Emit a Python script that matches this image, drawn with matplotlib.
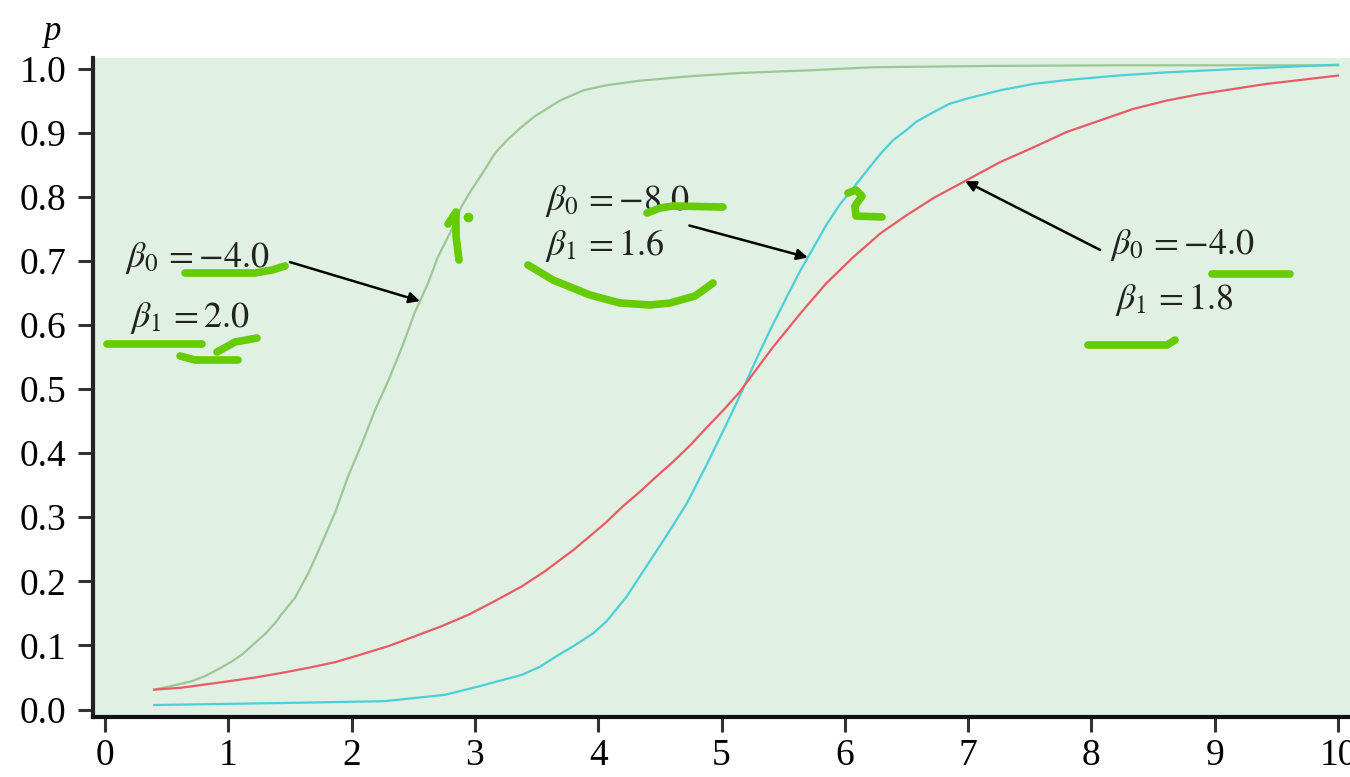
import numpy as np
import matplotlib
matplotlib.use('Agg')
import matplotlib.pyplot as plt
from matplotlib.lines import Line2D

plt.rcParams['font.family'] = 'serif'
plt.rcParams['font.serif'] = ['Liberation Serif', 'DejaVu Serif']
plt.rcParams['mathtext.fontset'] = 'stix'

# probability curves p(x) for three (beta0, beta1) pairs
green_x = [0.4, 0.57, 0.70, 0.81, 0.92, 1.03, 1.12, 1.20, 1.30, 1.38, 1.43, 1.54, 1.65, 1.76, 1.87,
           1.97, 2.08, 2.19, 2.30, 2.41, 2.51, 2.62, 2.70, 2.81, 2.89, 2.97, 3.06, 3.16, 3.27, 3.38,
           3.49, 3.69, 3.88, 4.07, 4.34, 4.75, 5.15, 5.69, 6.23, 7.18, 8.2, 9.2, 10.0]
green_p = [0.031, 0.038, 0.044, 0.052, 0.063, 0.075, 0.087, 0.101, 0.118, 0.135, 0.148, 0.174, 0.213,
           0.260, 0.309, 0.363, 0.413, 0.467, 0.514, 0.566, 0.618, 0.665, 0.706, 0.748, 0.784, 0.810,
           0.836, 0.867, 0.890, 0.909, 0.926, 0.950, 0.966, 0.974, 0.981, 0.988, 0.993, 0.997,
           1.002, 1.004, 1.005, 1.005, 1.005]

cyan_x = [0.4, 1.4, 2.27, 2.76, 3.03, 3.38, 3.53, 3.66, 3.80, 3.96, 4.07, 4.23, 4.39, 4.56, 4.72,
          4.88, 5.03, 5.15, 5.22, 5.31, 5.42, 5.53, 5.64, 5.75, 5.85, 5.96, 6.07, 6.18, 6.29, 6.39,
          6.50, 6.58, 6.72, 6.85, 6.99, 7.26, 7.53, 7.80, 8.21, 8.61, 9.15, 10.0]
cyan_p = [0.007, 0.010, 0.013, 0.023, 0.036, 0.054, 0.067, 0.083, 0.099, 0.119, 0.138, 0.176, 0.223,
          0.273, 0.322, 0.382, 0.441, 0.490, 0.520, 0.558, 0.602, 0.644, 0.685, 0.722, 0.756, 0.788,
          0.814, 0.841, 0.867, 0.888, 0.904, 0.917, 0.932, 0.945, 0.953, 0.966, 0.976, 0.982, 0.989,
          0.994, 0.999, 1.006]

red_x = [0.4, 0.62, 0.81, 1.0, 1.22, 1.43, 1.65, 1.87, 2.08, 2.30, 2.51, 2.73, 2.95, 3.16, 3.38,
         3.57, 3.66, 3.80, 3.93, 4.07, 4.20, 4.34, 4.47, 4.61, 4.75, 4.88, 5.02, 5.15, 5.23, 5.42,
         5.64, 5.85, 6.07, 6.29, 6.50, 6.72, 6.99, 7.26, 7.53, 7.80, 8.07, 8.34, 8.61, 8.88, 9.15,
         9.42, 9.69, 10.0]
red_p = [0.031, 0.034, 0.039, 0.044, 0.050, 0.057, 0.065, 0.074, 0.086, 0.099, 0.114, 0.130, 0.148,
         0.169, 0.192, 0.216, 0.229, 0.249, 0.270, 0.293, 0.317, 0.340, 0.363, 0.387, 0.413, 0.440,
         0.468, 0.496, 0.517, 0.566, 0.618, 0.665, 0.706, 0.743, 0.771, 0.798, 0.826, 0.854, 0.877,
         0.901, 0.919, 0.937, 0.950, 0.960, 0.968, 0.976, 0.982, 0.989]

labels_b0 = [r'$\beta_0\,= -4.0$', r'$\beta_0\,= -8.0$', r'$\beta_0\,= -4.0$']
labels_b1 = [r'$\beta_1\,= 2.0$', r'$\beta_1\,= 1.6$', r'$\beta_1\,= 1.8$']

fig = plt.figure(figsize=(13.5, 7.77), dpi=100)
ax = fig.add_axes([93 / 1350, 60 / 777, 1257 / 1350, 659 / 777])
ax.set_facecolor('#e0f0e3')

ax.plot(green_x, green_p, color='#9cc794', lw=1.6)
ax.plot(cyan_x, cyan_p, color='#4ccfd9', lw=1.6)
ax.plot(red_x, red_p, color='#ea5a64', lw=1.6)

ax.set_xlim(-0.097, 10.097)
ax.set_ylim(-0.0117, 1.0164)
ax.set_xticks(range(0, 11))
ax.set_yticks(np.arange(0, 1.01, 0.1))
ax.set_yticklabels(['%.1f' % v for v in np.arange(0, 1.01, 0.1)])
ax.tick_params(labelsize=27, length=10.5, width=2.2, color='#333333')
ax.tick_params(axis='x', pad=5)
ax.tick_params(axis='y', pad=8.5)
for s in ['top', 'right']:
    ax.spines[s].set_visible(False)
ax.spines['left'].set_linewidth(3)
ax.spines['left'].set_color('#222222')
ax.spines['bottom'].set_linewidth(3)
ax.spines['bottom'].set_color('#111111')

fig.text(52 / 1350, 1 - 31 / 777, 'p', fontsize=25, style='italic', ha='center', va='center')

# annotations: text lines and arrows pointing at each curve
arrow = dict(arrowstyle='-|>', color='black', lw=1.8, shrinkA=0, shrinkB=0, mutation_scale=16)
tcol = '#222222'
ax.text(0.16, 0.704, labels_b0[0], fontsize=26, va='center', color=tcol)
ax.text(0.20, 0.611, labels_b1[0], fontsize=26, va='center', color=tcol)
ax.annotate('', xy=(2.555, np.interp(2.555, green_x, green_p)), xytext=(1.50, 0.698), arrowprops=arrow)

ax.text(3.57, 0.794, labels_b0[1], fontsize=26, va='center', color=tcol)
ax.text(3.57, 0.724, labels_b1[1], fontsize=26, va='center', color=tcol)
ax.annotate('', xy=(5.70, np.interp(5.70, cyan_x, cyan_p)), xytext=(4.74, 0.755), arrowprops=arrow)

ax.text(8.15, 0.724, labels_b0[2], fontsize=26, va='center', color=tcol)
ax.text(8.19, 0.639, labels_b1[2], fontsize=26, va='center', color=tcol)
ax.annotate('', xy=(6.975, np.interp(6.975, red_x, red_p)), xytext=(8.07, 0.717), arrowprops=arrow)

# hand-drawn highlighter strokes (figure pixels, y from top)
strokes = [
    [(185, 273), (255, 273), (272, 270), (285, 266)],
    [(107, 344), (202, 344)],
    [(180, 356), (195, 360), (238, 360)],
    [(217, 352), (235, 342), (257, 338)],
    [(459, 260), (456, 236), (456, 212), (448, 224)],
    [(647, 213), (660, 208), (673, 206), (723, 207)],
    [(528, 265), (553, 280), (590, 295), (620, 303), (650, 305), (670, 303), (695, 296), (713, 283)],
    [(848, 193), (856, 190), (862, 196), (855, 206), (856, 216), (882, 217)],
    [(1212, 274), (1290, 274)],
    [(1088, 345), (1167, 345), (1175, 340)],
]
for st in strokes:
    xs = [p[0] / 1350 for p in st]
    ys = [1 - p[1] / 777 for p in st]
    fig.add_artist(Line2D(xs, ys, transform=fig.transFigure, color='#66cc00', lw=5.5,
                          solid_capstyle='round', solid_joinstyle='round'))
fig.add_artist(Line2D([468 / 1350], [1 - 217 / 777], transform=fig.transFigure, marker='o',
                      markersize=6, color='#66cc00', lw=0))

fig.savefig('out.png', dpi=100)
